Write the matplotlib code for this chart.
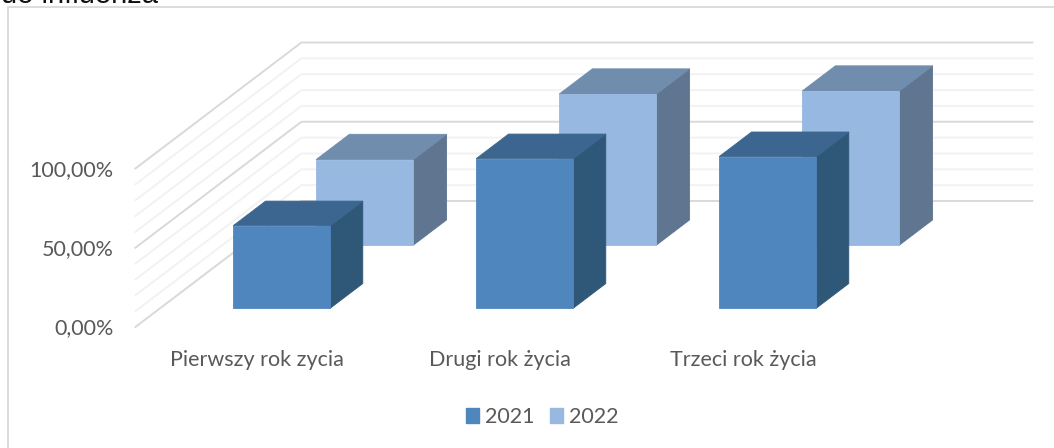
#!/usr/bin/env python3
"""Excel style 3D clustered column chart, drawn as an oblique projection on a 2D axes."""
import matplotlib
matplotlib.use("Agg")
import matplotlib.pyplot as plt
from matplotlib.patches import Polygon, Rectangle

categories = ["Pierwszy rok zycia", "Drugi rok życia", "Trzeci rok życia"]
series_names = ["2021", "2022"]
values_2021 = [52.0, 94.3, 95.6]
values_2022 = [54.0, 95.3, 97.2]
y_ticks = [0, 50, 100]
y_tick_labels = ["0,00%", "50,00%", "100,00%"]
minor_ticks = [10, 20, 30, 40, 60, 70, 80, 90]
clipped_title = "ue influenza"

W, H = 1054, 448
X0_PX, CAT_PX = 135.4, 243.0    # pixel of category edge 0, pixels per category
Y0_PX, PCT_PX = 327.0, 1.585    # pixel of 0 %, pixels per percent
DX = 166.0 / CAT_PX             # depth shift in category units
DY = 126.0 / PCT_PX             # depth shift in percent units
BAR_W = 0.40

FONT = "Lato"
FONT_SIZE = 15.5
TEXT = "#595959"

# (front, top, side) colours per series
faces = {
    "2021": ("#4f86bd", "#3c668f", "#2f5878"),
    "2022": ("#97b8e0", "#708dae", "#5f7590"),
}
# depth range of each row, 0 = front of floor, 1 = back wall
depths = {"2021": (0.15, 0.345), "2022": (0.65, 0.85)}


def proj(x, v, z):
    return x + z * DX, v + z * DY


def draw_bar(ax, xc, val, z0, z1, cols):
    x0, x1 = xc - BAR_W / 2, xc + BAR_W / 2
    front = [proj(x0, 0, z0), proj(x1, 0, z0), proj(x1, val, z0), proj(x0, val, z0)]
    top = [proj(x0, val, z0), proj(x1, val, z0), proj(x1, val, z1), proj(x0, val, z1)]
    side = [proj(x1, 0, z0), proj(x1, 0, z1), proj(x1, val, z1), proj(x1, val, z0)]
    for pts, c in [(side, cols[2]), (top, cols[1]), (front, cols[0])]:
        ax.add_patch(Polygon(pts, closed=True, facecolor=c, edgecolor=c, lw=0.6, zorder=3))


def main():
    fig = plt.figure(figsize=(W / 100, H / 100), dpi=100)
    ax = fig.add_axes([0, 0, 1, 1])
    ax.set_xlim(-X0_PX / CAT_PX, (W - X0_PX) / CAT_PX)
    ax.set_ylim((Y0_PX - H) / PCT_PX, Y0_PX / PCT_PX)
    ax.axis("off")

    # chart frame, only left and top edges are inside the crop
    fig.add_artist(plt.Line2D([8 / W, 8 / W, 1], [0, 1 - 7 / H, 1 - 7 / H],
                              color="#d9d9d9", lw=1.3))
    fig.text(158 / W, 1 - 3 / H, clipped_title, family="Liberation Sans", fontsize=21,
             color="#111111", ha="right", va="baseline")

    # side wall and back wall gridlines
    x_end = len(categories) + 0.008
    for v, col in [(m, "#f2f2f2") for m in minor_ticks] + [(t, "#d9d9d9") for t in y_ticks]:
        xs, ys = zip(proj(0, v, 0), proj(0, v, 1), proj(x_end, v, 1))
        ax.plot(xs, ys, color=col, lw=1.4, zorder=1)

    # back row first so the front row covers it
    for name, vals in [("2022", values_2022), ("2021", values_2021)]:
        z0, z1 = depths[name]
        for i, val in enumerate(vals):
            draw_bar(ax, i + 0.5, val, z0, z1, faces[name])

    for t, lab in zip(y_ticks, y_tick_labels):
        ax.annotate(lab, (0, t), xytext=(-22, -1.5), textcoords="offset pixels", ha="right",
                    va="center", family=FONT, fontsize=FONT_SIZE, color=TEXT)
    for i, lab in enumerate(categories):
        ax.annotate(lab, (i + 0.5, 0), xytext=(0, -33), textcoords="offset pixels",
                    ha="center", va="center", family=FONT, fontsize=FONT_SIZE, color=TEXT)

    handles = [Rectangle((0, 0), 1, 1, color=faces[n][0]) for n in series_names]
    fig.legend(handles, series_names, ncol=2, loc="center", bbox_to_anchor=(542.5 / W, 1 - 417 / H),
               frameon=False, prop={"family": FONT, "size": FONT_SIZE}, labelcolor=TEXT,
               handlelength=0.6, handleheight=0.65, handletextpad=0.3, columnspacing=0.7)

    fig.savefig("out.png", dpi=100)


if __name__ == "__main__":
    main()
